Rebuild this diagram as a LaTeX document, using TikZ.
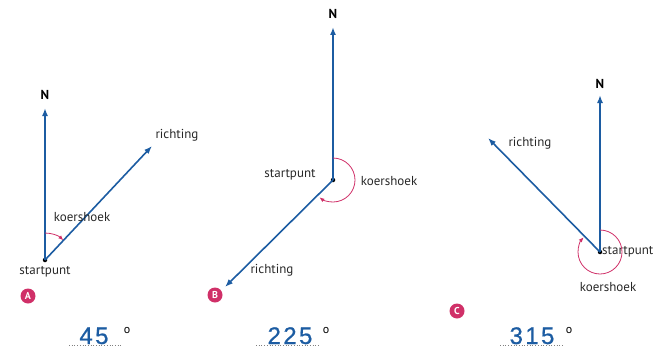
\documentclass[tikz,border=0pt]{standalone}
\usepackage{fontspec}
\setmainfont{PT Sans}
\newfontfamily\numfont[LetterSpace=10,FakeBold=0.8]{Liberation Sans}
\usetikzlibrary{arrows.meta}
\definecolor{vecblue}{RGB}{28,92,162}
\definecolor{arcred}{RGB}{208,48,104}
\definecolor{txt}{RGB}{40,40,40}
\tikzset{
  vec/.style={draw=vecblue, line width=1.6pt, -{Latex[length=8pt,width=6pt]}},
  arcs/.style={draw=arcred, line width=0.8pt, -{Latex[length=5pt,width=4pt]}},
  dotnode/.style={circle, fill=black, inner sep=0pt, minimum size=4.5pt},
  lab/.style={text=txt, font=\fontsize{13}{15}\selectfont, inner sep=1pt},
  nlab/.style={font=\fontsize{13}{15}\selectfont\bfseries, inner sep=1pt},
  badge/.style={circle, fill=arcred, text=white, inner sep=0pt, minimum size=15pt, font=\fontsize{10}{10}\selectfont\bfseries},
  num/.style={text=vecblue, font=\numfont\fontsize{24}{24}\selectfont, inner sep=0pt, anchor=base},
  deg/.style={font=\fontsize{12}{12}\selectfont, inner sep=0pt},
  dotline/.style={draw=gray, line width=0.7pt, dotted}
}
\begin{document}
\begin{tikzpicture}[x=1pt,y=1pt]
\useasboundingbox (0,0) rectangle (655,349);
% ---------- A ----------
\node[dotnode] (As) at (45,89) {};
\coordinate (AN) at (45,241);
\coordinate (AR) at (152,203);
\draw[vec] (As.center) -- (AN);
\draw[vec] (As.center) -- (AR);
\node[nlab] (ANl) at (45,254) {N};
\node[lab] (ARl) at (177,214) {richting};
\node[lab] (AKl) at (82,132) {koershoek};
\node[lab] (ASl) at (45,77) {startpunt};
\draw[arcs] (As.center) ++(90:27) arc[start angle=90, end angle=47, radius=27];
\node[badge] (Ab) at (28,53) {A};
% ---------- B ----------
\node[dotnode] (Bs) at (333,169) {};
\coordinate (BN) at (333,322);
\coordinate (BR) at (225,62);
\draw[vec] (Bs.center) -- (BN);
\draw[vec] (Bs.center) -- (BR);
\node[nlab] (BNl) at (333,335) {N};
\node[lab] (BRl) at (272,79) {richting};
\node[lab] (BSl) at (290,174) {startpunt};
\node[lab] (BKl) at (389,168) {koershoek};
\draw[arcs] (Bs.center) ++(90:22) arc[start angle=90, end angle=-128, radius=22];
\node[badge] (Bb) at (215,54) {B};
% ---------- C ----------
\node[dotnode] (Cs) at (600,97) {};
\coordinate (CN) at (600,254);
\coordinate (CR) at (488,211);
\draw[vec] (Cs.center) -- (CN);
\draw[vec] (Cs.center) -- (CR);
\node[nlab] (CNl) at (600,265) {N};
\node[lab] (CRl) at (530,206) {richting};
\node[lab, anchor=west] (CSl) at (601,97) {startpunt};
\node[lab] (CKl) at (608,62) {koershoek};
\draw[arcs] (Cs.center) ++(90:22) arc[start angle=90, end angle=-222, radius=22];
\node[badge] (Cb) at (457,38) {C};
% ---------- numbers ----------
\node[num] (n1) at (94,5) {45};
\node[deg] (d1) at (127,19) {o};
\draw[dotline] (69,4) -- (122,4);
\node[num] (n2) at (290,5) {225};
\node[deg] (d2) at (326,19) {o};
\draw[dotline] (256,4) -- (319,4);
\node[num] (n3) at (532,5) {315};
\node[deg] (d3) at (569,19) {o};
\draw[dotline] (500,4) -- (563,4);
\end{tikzpicture}
\end{document}
